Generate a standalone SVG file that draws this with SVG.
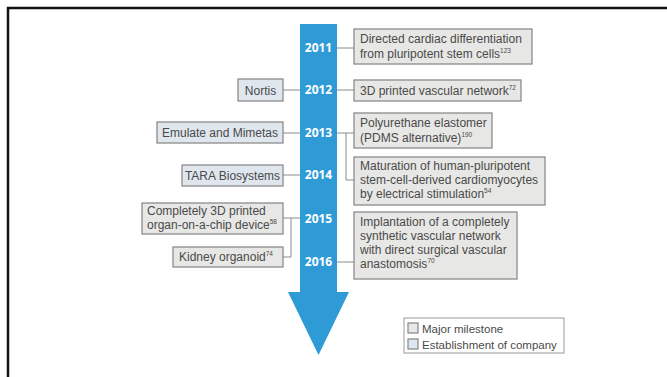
<svg xmlns="http://www.w3.org/2000/svg" width="667" height="377" viewBox="0 0 667 377">
<style>
text{font-family:"Liberation Sans","Open Sans",Arial,sans-serif;font-size:12px;fill:#4a4a4a}
.yr{font-family:"Open Sans","Liberation Sans",sans-serif;font-weight:bold;font-size:12px;fill:#fff;text-anchor:middle}
.ms{fill:#e7e7e5;stroke:#8c8c8c;stroke-width:1.3}
.co{fill:#dfe6ee;stroke:#8c8c8c;stroke-width:1.3}
.sup{font-size:6.5px}
.mid{text-anchor:middle}
.conn line,.conn polyline{stroke:#8a8a8a;stroke-width:1;fill:none}
.lg text{font-size:11.5px}
</style>
<rect width="667" height="377" fill="#fff"/>
<path d="M8,377 V8 H667" fill="none" stroke="#111" stroke-width="2.5"/>

<g id="timeline">
<path d="M300,24 H337 V292 H349 L318.5,355 L288,292 H300 Z" fill="#2f9bd6"/>
<text class="yr" x="318.5" y="52">2011</text>
<text class="yr" x="318.5" y="94">2012</text>
<text class="yr" x="318.5" y="137">2013</text>
<text class="yr" x="318.5" y="179">2014</text>
<text class="yr" x="318.5" y="223">2015</text>
<text class="yr" x="318.5" y="266">2016</text>
</g>

<g class="conn" id="connectors">
<line x1="337" y1="48" x2="354" y2="48"/>
<line x1="337" y1="90" x2="354" y2="90"/>
<line x1="283" y1="90" x2="300" y2="90"/>
<line x1="283" y1="133" x2="300" y2="133"/>
<line x1="337" y1="133" x2="354" y2="133"/>
<polyline points="346,133 346,180 354,180"/>
<line x1="283" y1="175" x2="300" y2="175"/>
<line x1="283" y1="218" x2="300" y2="218"/>
<polyline points="291,218 291,257 283,257"/>
<line x1="337" y1="262" x2="354" y2="262"/>
</g>

<g id="m2011">
<rect class="ms" x="354" y="29" width="178" height="35"/>
<text x="360" y="43">Directed cardiac differentiation</text>
<text x="360" y="58">from pluripotent stem cells<tspan class="sup" dy="-5">123</tspan></text>
</g>
<g id="m2012">
<rect class="ms" x="354" y="80" width="167" height="21"/>
<text x="360" y="95">3D printed vascular network<tspan class="sup" dy="-5">72</tspan></text>
</g>
<g id="m2013a">
<rect class="ms" x="354" y="113" width="138" height="35"/>
<text x="360" y="127">Polyurethane elastomer</text>
<text x="360" y="142">(PDMS alternative)<tspan class="sup" dy="-5">190</tspan></text>
</g>
<g id="m2013b">
<rect class="ms" x="354" y="157" width="191" height="48"/>
<text x="360" y="170">Maturation of human-pluripotent</text>
<text x="360" y="184">stem-cell-derived cardiomyocytes</text>
<text x="360" y="198">by electrical stimulation<tspan class="sup" dy="-5">54</tspan></text>
</g>
<g id="m2016">
<rect class="ms" x="354" y="212" width="163" height="67"/>
<text x="360" y="226">Implantation of a completely</text>
<text x="360" y="240">synthetic vascular network</text>
<text x="360" y="254">with direct surgical vascular</text>
<text x="360" y="268">anastomosis<tspan class="sup" dy="-5">70</tspan></text>
</g>

<g id="nortis">
<rect class="co" x="238" y="79" width="45" height="22"/>
<text class="mid" x="260.5" y="94.5">Nortis</text>
</g>
<g id="emulate">
<rect class="co" x="157" y="122" width="126" height="21"/>
<text class="mid" x="220" y="137">Emulate and Mimetas</text>
</g>
<g id="tara">
<rect class="co" x="182" y="165" width="101" height="21"/>
<text class="mid" x="232.5" y="180">TARA Biosystems</text>
</g>
<g id="m2015">
<rect class="ms" x="142" y="203" width="141" height="31"/>
<text x="147" y="215">Completely 3D printed</text>
<text x="147" y="229">organ-on-a-chip device<tspan class="sup" dy="-5">58</tspan></text>
</g>
<g id="kidney">
<rect class="ms" x="173" y="247" width="110" height="20"/>
<text x="179" y="261">Kidney organoid<tspan class="sup" dy="-5">74</tspan></text>
</g>

<g id="legend" class="lg">
<rect x="404" y="318" width="160" height="35" fill="#fff" stroke="#999" stroke-width="1"/>
<rect class="ms" x="408" y="323" width="10" height="10"/>
<text x="422" y="332.5">Major milestone</text>
<rect class="co" x="408" y="339" width="10" height="10"/>
<text x="422" y="348.5">Establishment of company</text>
</g>
</svg>
